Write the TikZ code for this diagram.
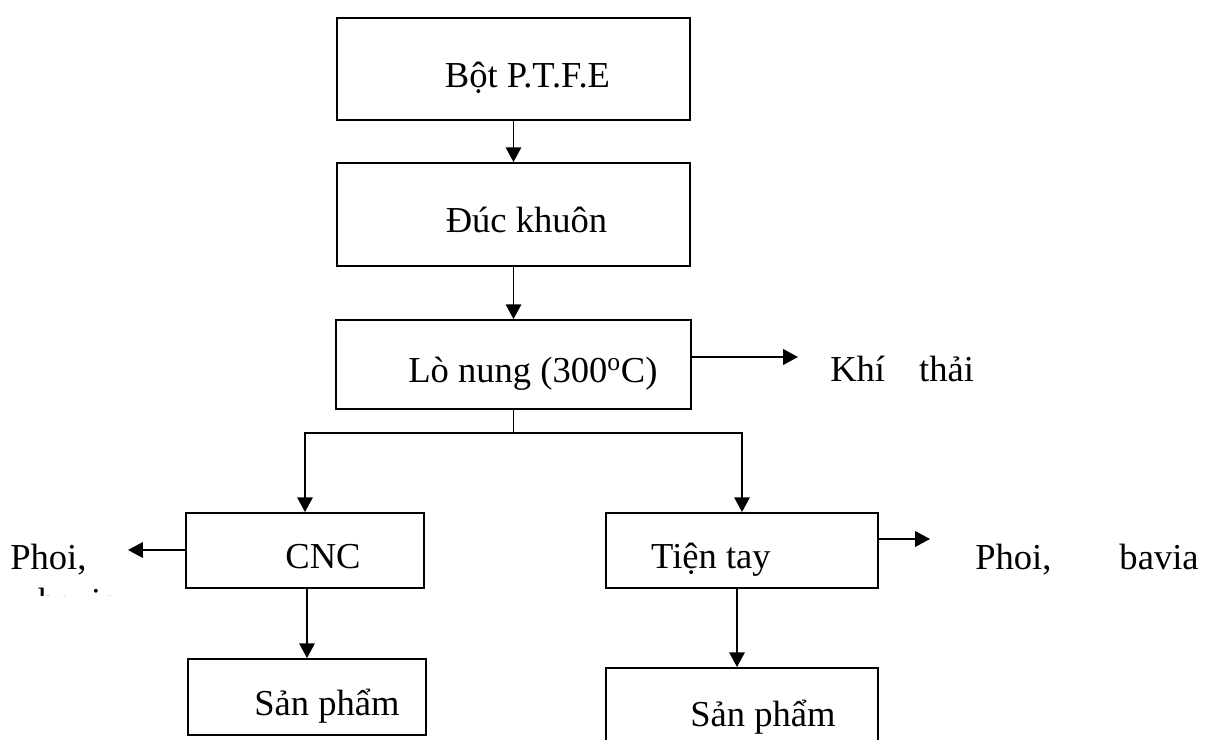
\documentclass[tikz,border=0pt]{standalone}
\usepackage{fontspec}
\setmainfont{Liberation Serif}
\usetikzlibrary{arrows.meta,calc}
\definecolor{BoxClr}{rgb}{0,0,0}

\begin{document}
\begin{tikzpicture}[x=0.025cm,y=-0.025cm,
  box/.style={draw=BoxClr,line width=1.3pt,inner sep=0pt,
    text height=30pt,text depth=4pt,
    font=\fontsize{26}{30}\selectfont},
  lbl/.style={inner sep=0pt,font=\fontsize{26}{30}\selectfont},
  arr/.style={line width=1.3pt,-{Triangle[length=10.5pt,width=11pt]}}]
\useasboundingbox (0,0) rectangle (1208,740);

% main line
\node[box,minimum width=8.825cm,minimum height=2.55cm] (bot) at (513.5,69) {\hspace{0.7cm}Bột P.T.F.E};
\node[box,minimum width=8.825cm,minimum height=2.575cm] (duc) at (513.5,214.5) {\hspace{0.65cm}Đúc khuôn};
\node[box,minimum width=8.875cm,minimum height=2.225cm] (lo) at (513.5,364.5) {\hspace{0.97cm}Lò nung (300\textsuperscript{o}C)};

\draw[arr] (bot) -- (duc);
\draw[arr] (duc) -- (lo);

\coordinate (khiTip) at (798,357);
\draw[arr] (lo.east |- khiTip) -- (khiTip);
\node[lbl,anchor=base west] (khi) at (830,382) {Khí\hspace{0.85cm}thải};

% branches
\node[box,minimum width=5.95cm,minimum height=1.875cm] (cnc) at (305,550.5) {\hspace{0.9cm}CNC};
\node[box,minimum width=6.8cm,minimum height=1.875cm] (tien) at (742,550.5) {\hspace{-1.55cm}Tiện tay};

\coordinate (split) at (513.5,433);
\draw[line width=1.3pt] (lo.south) -- (split);
\draw[arr] (split) -| (cnc.north);
\draw[arr] (split) -| (tien.north);

% side outputs
\coordinate (phoiTip) at (128,550);
\draw[arr] (cnc.west |- phoiTip) -- (phoiTip);
\node[lbl,anchor=base west] (phoiL) at (10,569) {Phoi,};
\begin{scope}
\clip (0,586) rectangle (130,595);
\node[lbl,anchor=base west] at (38,613) {bavia};
\end{scope}

\coordinate (bavTip) at (930,539);
\draw[arr] (tien.east |- bavTip) -- (bavTip);
\node[lbl,anchor=base west] (phoiR) at (975,569) {Phoi,\hspace{1.7cm}bavia};

% products
\node[box,minimum width=5.95cm,minimum height=1.9cm] (sp1) at (307,697) {\hspace{1cm}Sản phẩm};
\node[box,minimum width=6.8cm,minimum height=2cm] (sp2) at (742,708) {\hspace{1.05cm}Sản phẩm};

\draw[arr] (cnc.south -| sp1.north) -- (sp1.north);
\draw[arr] (tien.south -| 737,0) -- (sp2.north -| 737,0);
\end{tikzpicture}
\end{document}
